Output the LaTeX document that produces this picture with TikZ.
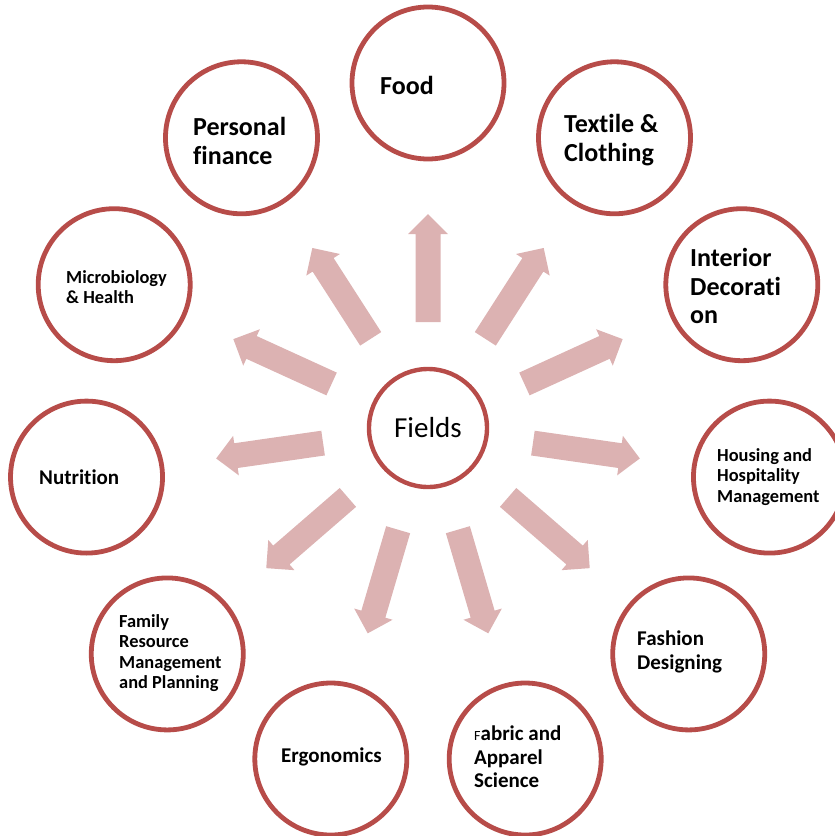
\documentclass[tikz,border=0pt]{standalone}
\usepackage{fontspec}
\setmainfont{Carlito}[Ligatures={NoCommon,NoContextual,NoRare}]
\newcommand{\nolig}{\kern0pt{}}
\definecolor{ringred}{RGB}{183,76,73}
\definecolor{arrowpink}{RGB}{220,178,178}
\begin{document}
\begin{tikzpicture}[x=1pt,y=1pt,
  ringbox/.style={circle, draw=ringred, line width=4.8pt, minimum size=152pt, inner sep=0pt},
  hubbox/.style={circle, draw=ringred, line width=4.4pt, minimum size=118pt, inner sep=0pt,
    font=\fontsize{29}{31}\selectfont},
  lblbig/.style={anchor=west, align=left, inner sep=0pt, font=\fontsize{26}{28.5}\selectfont\bfseries},
  lblmid/.style={anchor=west, align=left, inner sep=0pt, font=\fontsize{21}{23.5}\selectfont\bfseries},
  lblsmall/.style={anchor=west, align=left, inner sep=0pt, font=\fontsize{18.4}{20.5}\selectfont\bfseries},
  blockarrow/.style={fill=arrowpink, draw=none}
]
\useasboundingbox (0,0) rectangle (835,-836);
\clip (0,0) rectangle (835,-836);
\coordinate (C) at (428,-428);
\node[hubbox] (fields) at (C) {Fields};
\foreach \k/\nm in {0/food,1/textile,2/interior,3/housing,4/fashion,5/fabric,6/ergo,7/family,8/nutrition,9/micro,10/personal} {
  \pgfmathsetmacro\ang{90-\k*360/11}
  \node[ringbox] (\nm) at ([shift={(\ang:345)}]C) {};
  \fill[blockarrow, shift={(C)}, rotate=\ang]
    (106,-12.5) -- (194,-12.5) -- (194,-20) -- (214,0) -- (194,20) -- (194,12.5) -- (106,12.5) -- cycle;
}
\node[lblbig] (tfood) at (380,-85) {Food};
\node[lblbig] (tpersonal) at (193,-141) {Personal\\f\nolig inance};
\node[lblbig] (ttextile) at (564,-140) {Text\nolig ile \&\\Clothing};
\node[lblbig] (tinterior) at (690,-286) {Interior\\Decorat\nolig i\\on};
\node[lblsmall] (tmicro) at (66,-287) {Microbiology\\\& Health};
\node[lblsmall] (thousing) at (717,-477) {Housing and\\Hospitality\\Management};
\node[lblmid] (tnutrition) at (39,-477) {Nutrit\nolig ion};
\node[lblmid] (tfashion) at (637,-652) {Fashion\\Designing};
\node[lblsmall] (tfamily) at (119,-653) {Family\\Resource\\Management\\and Planning};
\node[lblmid] (tergo) at (281,-757) {Ergonomics};
\node[lblmid] (tfabric) at (474,-757) {{\fontsize{14}{14}\selectfont\mdseries F}abric and\\Apparel\\Science};
\end{tikzpicture}
\end{document}
